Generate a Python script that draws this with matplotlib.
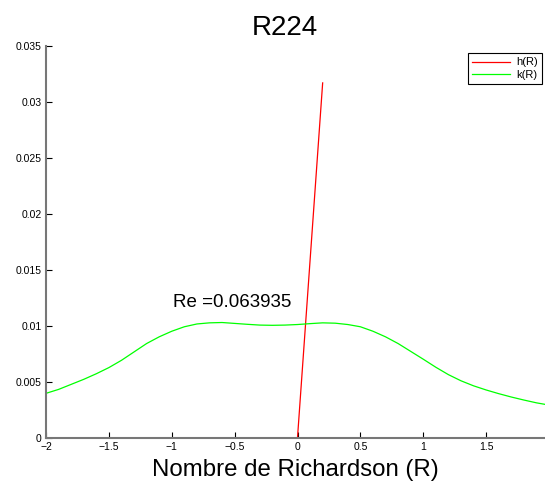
import matplotlib.pyplot as plt

plt.rcParams["font.family"] = ["Liberation Sans", "DejaVu Sans"]

# ---------------------------------------------------
# DATA
# ---------------------------------------------------

# k(R): density curve over the Richardson number
k_r = [-2.0, -1.9, -1.8, -1.7, -1.6, -1.5, -1.4, -1.3, -1.2, -1.1,
       -1.0, -0.9, -0.8, -0.7, -0.6, -0.5, -0.4, -0.3, -0.2, -0.1,
       0.0, 0.1, 0.2, 0.3, 0.4, 0.5, 0.6, 0.7, 0.8, 0.9,
       1.0, 1.1, 1.2, 1.3, 1.4, 1.5, 1.6, 1.7, 1.8, 1.9, 1.97]
k_vals = [0.00395, 0.0043, 0.00475, 0.0052, 0.0057, 0.00625, 0.0069, 0.00765, 0.0084, 0.0090,
          0.0095, 0.0099, 0.01015, 0.01025, 0.01028, 0.0102, 0.01012, 0.01005, 0.01003, 0.01005,
          0.0101, 0.01018, 0.01025, 0.01022, 0.0101, 0.0099, 0.0095, 0.0090, 0.0084, 0.0077,
          0.0070, 0.00628, 0.00562, 0.00507, 0.00462, 0.00425, 0.00392, 0.00362, 0.00335, 0.0031, 0.00296]

# h(R): straight line from the origin
h_r = [0.0, 0.2]
h_vals = [0.0, 0.0317]

re_value = 0.063935

x_ticks = [-2, -1.5, -1, -0.5, 0, 0.5, 1, 1.5]
x_tick_labels = ["\u22122", "\u22121.5", "\u22121", "\u22120.5", "0", "0.5", "1", "1.5"]
y_ticks = [0, 0.005, 0.01, 0.015, 0.02, 0.025, 0.03, 0.035]
y_tick_labels = ["0", "0.005", "0.01", "0.015", "0.02", "0.025", "0.03", "0.035"]

# ---------------------------------------------------
# PLOT
# ---------------------------------------------------

fig = plt.figure(figsize=(5.45, 4.82), dpi=100)
ax = fig.add_axes([0.0844, 0.0923, 0.9156, 0.8123])

ax.plot(h_r, h_vals, color="#ff0000", linewidth=0.9, label="h(R)")
ax.plot(k_r, k_vals, color="#00ff00", linewidth=0.9, label="k(R)")

ax.text(-0.99, 0.0117, "Re =" + str(re_value), fontsize=13.5, va="baseline", ha="left")

ax.set_xlim(-2, 1.968)
ax.set_ylim(0, 0.035)
ax.set_xticks(x_ticks)
ax.set_xticklabels(x_tick_labels)
ax.set_yticks(y_ticks)
ax.set_yticklabels(y_tick_labels)
ax.tick_params(direction="in", length=4, width=0.8, labelsize=7.5, pad=3)

for side in ["top", "right"]:
    ax.spines[side].set_visible(False)
for side in ["left", "bottom"]:
    ax.spines[side].set_color("#777777")
    ax.spines[side].set_linewidth(1.5)

ax.set_title("R224", fontsize=20, pad=8, x=0.479)
ax.set_xlabel("Nombre de Richardson (R)", fontsize=17.3, labelpad=5)

leg = ax.legend(loc="upper right", bbox_to_anchor=(0.994, 0.982), borderaxespad=0,
                fontsize=8, fancybox=False, framealpha=1, edgecolor="black",
                handlelength=3.4, borderpad=0.4, labelspacing=0.2, handletextpad=0.5)
leg.get_frame().set_linewidth(0.8)

fig.savefig("out.png", dpi=100)
